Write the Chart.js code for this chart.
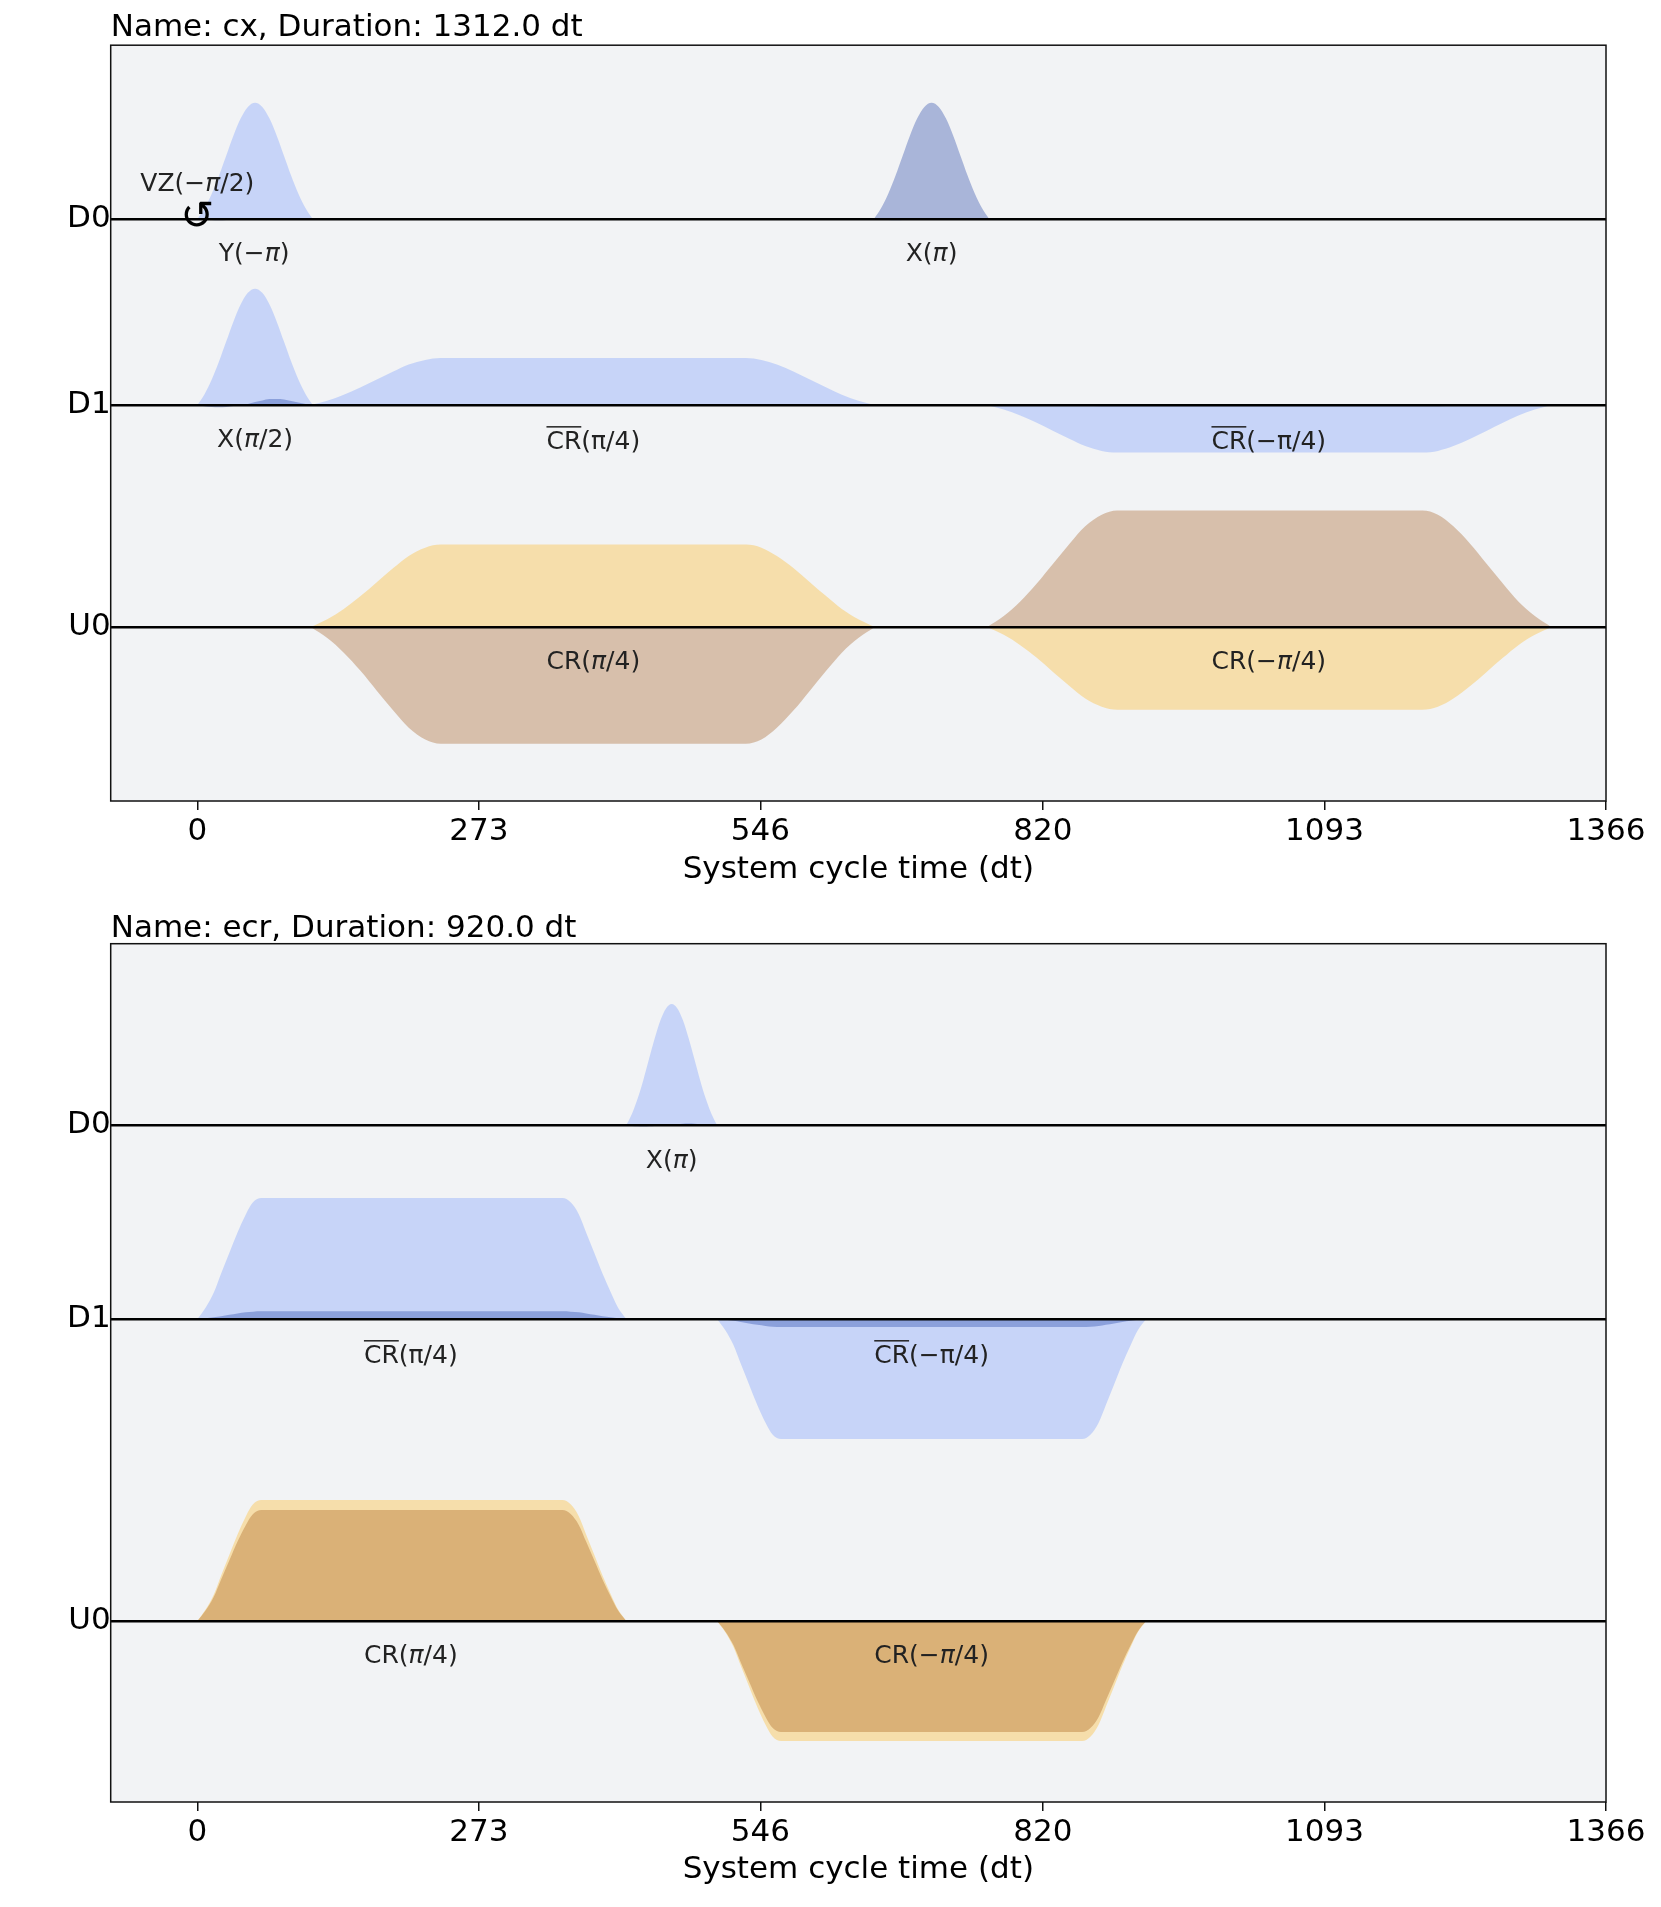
<!DOCTYPE html>
<html>
<head>
<meta charset="utf-8">
<style>
  body { margin: 0; background: #fff; }
  canvas { position: absolute; left: 0; }
</style>
<script src="https://cdn.jsdelivr.net/npm/chart.js@4"></script>
</head>
<body>
<canvas id="cx" width="1661" height="905" style="top:0"></canvas>
<canvas id="ecr" width="1661" height="1002" style="top:905px"></canvas>
<script>
const xTicks = [0, 273, 546, 820, 1093, 1366]
const channels = ['D0', 'D1', 'U0']

// cx schedule (amplitudes relative to the channel line)
const cxY = [0, -1.86, -4.08]
const cxGaussT = [0, 7, 14, 21, 28, 35, 42, 49, 56, 63, 70, 77, 84, 91, 98, 105, 112]
const cxGaussT2 = [656, 663, 670, 677, 684, 691, 698, 705, 712, 719, 726, 733, 740, 747, 754, 761, 768]
const cxGaussAmp = [0, .108, .255, .435, .635, .835, 1.007, 1.123, 1.165, 1.123, 1.007, .835, .635, .435, .255, .108, 0]
const cxGaussSmall = [0, -.004, -.008, -.01, -.008, -.005, 0, .004, .008, .01, .012, .012, .01, .008, .006, .003, 0]
const cxBumpImag = [0, -.012, -.02, -.022, -.018, -.01, -.004, .012, .03, .045, .06, .06, .055, .04, .025, .01, 0]
const crT1 = [110, 126, 142, 158, 174, 190, 205, 221, 236, 532, 547, 562, 578, 594, 610, 625, 641, 657]
const crT2 = [766, 782, 798, 814, 830, 846, 861, 877, 892, 1188, 1203, 1218, 1234, 1250, 1266, 1281, 1297, 1313]
const cxD1Re1 = [0, .043, .103, .175, .256, .335, .405, .451, .47, .47, .451, .405, .335, .256, .175, .103, .043, 0]
const cxD1Im1 = [0, .001, .003, .004, .006, .008, .01, .011, .012, .012, .011, .01, .008, .006, .004, .003, .001, 0]
const cxD1Re2 = [0, -.045, -.104, -.177, -.259, -.34, -.41, -.458, -.475, -.475, -.458, -.41, -.34, -.259, -.177, -.104, -.045, 0]
const cxD1Im2 = [0, -.001, -.003, -.004, -.006, -.008, -.01, -.011, -.012, -.012, -.011, -.01, -.008, -.006, -.004, -.003, -.001, 0]
const cxU0Re1 = [0, .078, .18, .307, .449, .59, .711, .794, .825, .825, .794, .711, .59, .449, .307, .18, .078, 0]
const cxU0Im1 = [0, -.11, -.256, -.435, -.636, -.836, -1.008, -1.125, -1.167, -1.167, -1.125, -1.008, -.836, -.636, -.435, -.256, -.11, 0]
const cxU0Re2 = [0, -.078, -.181, -.308, -.451, -.592, -.715, -.797, -.827, -.827, -.797, -.715, -.592, -.451, -.308, -.181, -.078, 0]
const cxU0Im2 = [0, .11, .255, .435, .635, .835, 1.007, 1.123, 1.165, 1.165, 1.123, 1.007, .835, .635, .435, .255, .11, 0]

// ecr schedule
const ecrY = [0, -1.94, -4.96]
const ecrGaussT = [416, 421.5, 427, 432.5, 438, 443.5, 449, 454.5, 460, 465.5, 471, 476.5, 482, 487.5, 493, 498.5, 504]
const ecrGaussRe = [0, .114, .265, .452, .66, .866, 1.046, 1.167, 1.21, 1.167, 1.046, .866, .66, .452, .265, .114, 0]
const ecrGaussIm = [0, -.008, -.012, -.014, -.012, -.008, -.004, .002, .006, .01, .014, .015, .014, .011, .008, .004, 0]
const ecrT1 = [0, 8, 16, 23, 31, 39, 47, 54, 62, 354, 362, 370, 377, 385, 393, 401, 408, 416]
const ecrT2 = [504, 512, 520, 527, 535, 543, 551, 558, 566, 858, 866, 874, 881, 889, 897, 905, 912, 920]
const ecrRe1 = [0, .114, .265, .452, .66, .866, 1.046, 1.167, 1.21, 1.21, 1.167, 1.046, .866, .66, .452, .265, .114, 0]
const ecrRe2 = [0, -.113, -.263, -.448, -.654, -.859, -1.037, -1.157, -1.2, -1.2, -1.157, -1.037, -.859, -.654, -.448, -.263, -.113, 0]
const ecrD1Im1 = [0, .007, .017, .029, .042, .055, .067, .074, .077, .077, .074, .067, .055, .042, .029, .017, .007, 0]
const ecrD1Im2 = [0, -.008, -.018, -.03, -.044, -.057, -.069, -.077, -.08, -.08, -.077, -.069, -.057, -.044, -.03, -.018, -.008, 0]
const ecrU0Im1 = [0, .104, .243, .414, .605, .795, .959, 1.07, 1.11, 1.11, 1.07, .959, .795, .605, .414, .243, .104, 0]
const ecrU0Im2 = [0, -.104, -.243, -.414, -.605, -.795, -.959, -1.07, -1.11, -1.11, -1.07, -.959, -.795, -.605, -.414, -.243, -.104, 0]

const D_RE = 'rgba(100,143,255,.3)'
const D_IM = 'rgba(0,41,153,.3)'
const U_RE = 'rgba(255,176,0,.3)'
const U_IM = 'rgba(153,74,0,.3)'

// [text, time, channel index, offset from channel line, overline?, italic pi?]
const cxNotes = [
  ['VZ(−π/2)', 0, 0, .35, false, true],
  ['Y(−π)', 55, 0, -.35, false, true],
  ['X(π)', 712, 0, -.35, false, true],
  ['X(π/2)', 56, 1, -.35, false, true],
  ['CR(π/4)', 384, 1, -.37, true, false],
  ['CR(−π/4)', 1039, 1, -.37, true, false],
  ['CR(π/4)', 384, 2, -.35, false, true],
  ['CR(−π/4)', 1039, 2, -.35, false, true],
]
const ecrNotes = [
  ['X(π)', 460, 0, -.36, false, true],
  ['CR(π/4)', 207, 1, -.37, true, false],
  ['CR(−π/4)', 712, 1, -.37, true, false],
  ['CR(π/4)', 207, 2, -.35, false, true],
  ['CR(−π/4)', 712, 2, -.35, false, true],
]

function wave(t, amp, base, color) {
  return {
    data: t.map((x, i) => ({ x: x, y: base + amp[i] })),
    backgroundColor: color,
    borderWidth: 0,
    pointRadius: 0,
    cubicInterpolationMode: 'monotone',
    fill: { value: base },
  }
}

const panelPlugin = {
  id: 'panel',
  beforeDatasetsDraw(chart) {
    const a = chart.chartArea, ctx = chart.ctx
    ctx.save()
    ctx.fillStyle = '#f2f3f5'
    ctx.fillRect(a.left, a.top, a.right - a.left, a.bottom - a.top)
    ctx.restore()
  },
  afterDraw(chart, args, opts) {
    const a = chart.chartArea, ctx = chart.ctx
    const sx = chart.scales.x, sy = chart.scales.y
    ctx.save()
    ctx.strokeStyle = '#111'
    ctx.lineWidth = 1.5
    ctx.strokeRect(a.left, a.top, a.right - a.left, a.bottom - a.top)

    ctx.fillStyle = '#222'
    ctx.textBaseline = 'middle'
    ctx.textAlign = 'left'
    opts.notes.forEach(n => {
      const cx = sx.getPixelForValue(n[1])
      const cy = sy.getPixelForValue(opts.rows[n[2]] + n[3])
      const parts = n[0].split('π')
      const plain = '25px "DejaVu Sans"'
      const pi = (n[5] ? 'italic ' : '') + plain
      ctx.font = plain
      let w = ctx.measureText(parts[0]).width + ctx.measureText(parts[1]).width
      ctx.font = pi
      w += ctx.measureText('π').width
      let x = cx - w / 2
      if (n[4]) {
        ctx.font = plain
        ctx.fillRect(x, cy - 16, ctx.measureText('CR').width, 1.5)
      }
      ctx.font = plain
      ctx.fillText(parts[0], x, cy)
      x += ctx.measureText(parts[0]).width
      ctx.font = pi
      ctx.fillText('π', x, cy)
      x += ctx.measureText('π').width
      ctx.font = plain
      ctx.fillText(parts[1], x, cy)
    })
    if (opts.vz) {
      ctx.fillStyle = '#000'
      ctx.font = '40px "DejaVu Sans"'
      ctx.textAlign = 'center'
      ctx.fillText('↺', sx.getPixelForValue(0), sy.getPixelForValue(.01))
    }
    ctx.restore()
  },
}

function draw(id, name, datasets, rows, yMin, yMax, notes, padTop, titleShift, padBottom, xHeight, vz) {
  return new Chart(document.getElementById(id), {
    type: 'line',
    data: { datasets: datasets },
    plugins: [panelPlugin],
    options: {
      responsive: false,
      animation: false,
      layout: { padding: { top: padTop, right: 55, left: 0, bottom: padBottom } },
      plugins: {
        legend: { display: false },
        tooltip: { enabled: false },
        title: {
          display: true,
          text: name,
          align: 'start',
          fullSize: false,
          color: '#000',
          font: { family: 'DejaVu Sans', size: 31, weight: 'normal', lineHeight: 1.2 },
          padding: { top: 0, bottom: titleShift },
        },
        panel: { notes: notes, rows: rows, vz: vz },
      },
      scales: {
        x: {
          type: 'linear',
          min: -84,
          max: 1366,
          afterBuildTicks(s) { s.ticks = xTicks.map(v => ({ value: v })) },
          afterFit(s) { s.height = xHeight },
          grid: { display: true, drawOnChartArea: false, color: '#111', lineWidth: 1.5, tickLength: 9 },
          border: { display: false },
          ticks: { color: '#000', padding: 3, maxRotation: 0, autoSkip: false, font: { family: 'DejaVu Sans', size: 31 }, callback: v => String(v) },
          title: {
            display: true,
            text: 'System cycle time (dt)',
            color: '#000',
            padding: { top: 0, bottom: 0 },
            font: { family: 'DejaVu Sans', size: 31, weight: 'normal', lineHeight: 1.2 },
          },
        },
        y: {
          type: 'linear',
          min: yMin,
          max: yMax,
          afterBuildTicks(s) { s.ticks = rows.map(v => ({ value: v })) },
          afterFit(s) { s.width = 110.7 },
          grid: { color: '#000', lineWidth: 2.4, z: 1, drawTicks: false },
          border: { display: false },
          ticks: { color: '#000', padding: 0, autoSkip: false, font: { family: 'DejaVu Sans', size: 31 },
            callback: v => channels[rows.indexOf(v)] },
        },
      },
    },
  })
}

// chart.js paints the first dataset last, so imaginary parts come first
const cxSets = [
  wave(cxGaussT, cxGaussSmall, cxY[0], D_IM),
  wave(cxGaussT, cxGaussAmp, cxY[0], D_RE),
  wave(cxGaussT2, cxGaussAmp, cxY[0], D_IM),
  wave(cxGaussT2, cxGaussSmall, cxY[0], D_RE),
  wave(cxGaussT, cxBumpImag, cxY[1], D_IM),
  wave(cxGaussT, cxGaussAmp, cxY[1], D_RE),
  wave(crT1, cxD1Im1, cxY[1], D_IM),
  wave(crT1, cxD1Re1, cxY[1], D_RE),
  wave(crT2, cxD1Im2, cxY[1], D_IM),
  wave(crT2, cxD1Re2, cxY[1], D_RE),
  wave(crT1, cxU0Im1, cxY[2], U_IM),
  wave(crT1, cxU0Re1, cxY[2], U_RE),
  wave(crT2, cxU0Im2, cxY[2], U_IM),
  wave(crT2, cxU0Re2, cxY[2], U_RE),
]
const ecrSets = [
  wave(ecrGaussT, ecrGaussIm, ecrY[0], D_IM),
  wave(ecrGaussT, ecrGaussRe, ecrY[0], D_RE),
  wave(ecrT1, ecrD1Im1, ecrY[1], D_IM),
  wave(ecrT1, ecrRe1, ecrY[1], D_RE),
  wave(ecrT2, ecrD1Im2, ecrY[1], D_IM),
  wave(ecrT2, ecrRe2, ecrY[1], D_RE),
  wave(ecrT1, ecrU0Im1, ecrY[2], U_IM),
  wave(ecrT1, ecrRe1, ecrY[2], U_RE),
  wave(ecrT2, ecrU0Im2, ecrY[2], U_IM),
  wave(ecrT2, ecrRe2, ecrY[2], U_RE),
]

draw('cx', 'Name: cx, Duration: 1312.0 dt', cxSets, cxY, -5.82, 1.74, cxNotes, 9.2, -1.2, 16, 88, true)
draw('ecr', 'Name: ecr, Duration: 920.0 dt', ecrSets, ecrY, -6.77, 1.814, ecrNotes, 5, -3.5, 18, 87, false)
</script>
</body>
</html>
